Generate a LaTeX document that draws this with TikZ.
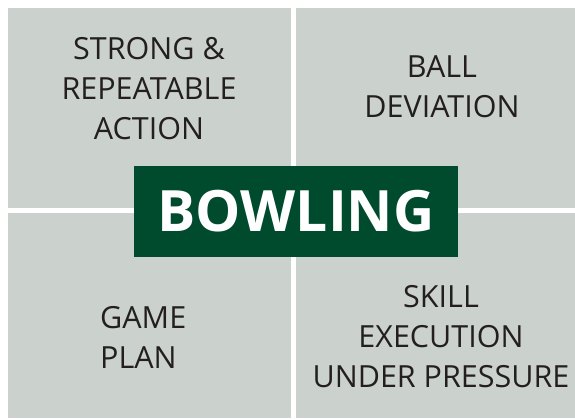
\documentclass[tikz,border=0pt]{standalone}
\usepackage{fontspec}
\setmainfont{Open Sans}
\usepackage{tikz}

\definecolor{tilegray}{HTML}{CBD1CD}
\definecolor{bowlgreen}{HTML}{004A2E}
\definecolor{inkdark}{HTML}{231F20}

\begin{document}
\begin{tikzpicture}[x=1pt, y=-1pt,
    tile/.style={fill=tilegray, draw=none},
    label/.style={text=inkdark, inner sep=0pt, font=\fontsize{30.5}{40}\selectfont}]
            \useasboundingbox (0,0) rectangle (575,418);

            % Define tiles
            \fill[tile] (8,8) rectangle (291,208);
            \fill[tile] (296,8) rectangle (575,208);
            \fill[tile] (8,213) rectangle (291,418);
            \fill[tile] (296,213) rectangle (575,418);

            % Tile labels
            \node[label, anchor=north, align=center] (action) at (149,37) {STRONG \&\\REPEATABLE\\ACTION};
            \node[label, anchor=north, align=center] (ball) at (442,55) {BALL\\DEVIATION};
            \node[label, anchor=north west, align=left] (plan) at (100,306) {GAME\\PLAN};
            \node[label, anchor=north, align=center] (skill) at (441,285) {SKILL\\EXECUTION\\UNDER PRESSURE};

            % Centre box
            \node[fill=bowlgreen, text=white, minimum width=324pt, minimum height=91pt,
                  font=\fontsize{57}{57}\bfseries\selectfont] (bowling) at (296,211.5) {BOWLING};
        \end{tikzpicture}
\end{document}
